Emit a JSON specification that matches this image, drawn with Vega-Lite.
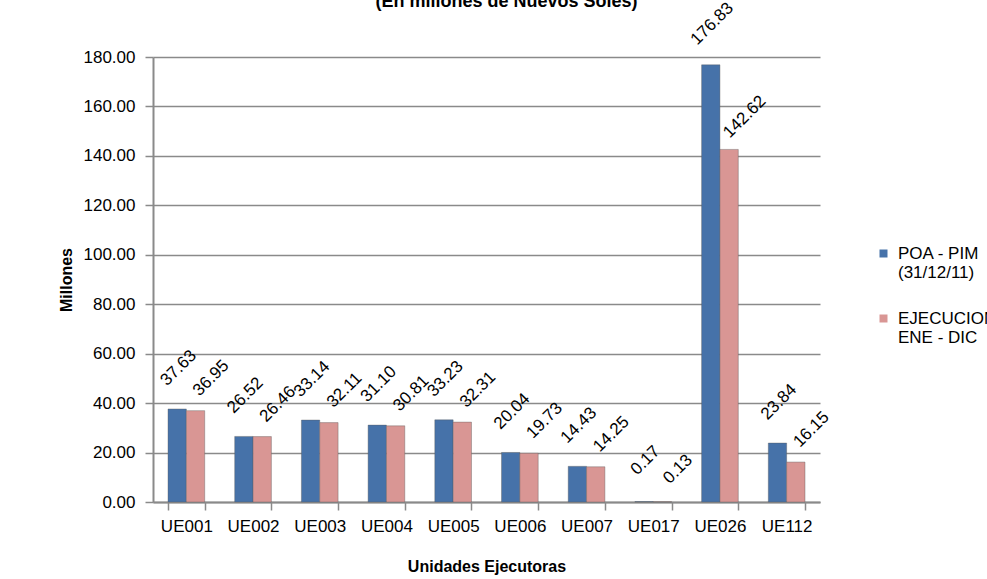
{
  "$schema": "https://vega.github.io/schema/vega-lite/v6.json",
  "width": 667,
  "height": 445,
  "autosize": {"type": "none"},
  "padding": {"left": 153, "top": 57, "right": 167, "bottom": 77},
  "background": "white",
  "title": {
    "text": "(En millones de Nuevos Soles)",
    "font": "Liberation Sans",
    "fontSize": 18,
    "fontWeight": "bold",
    "color": "#000000",
    "anchor": "middle",
    "frame": "group",
    "baseline": "alphabetic",
    "offset": -26,
    "dx": 20
  },
  "config": {
    "view": {"stroke": null},
    "font": "Liberation Sans"
  },
  "data": {
    "values": [
      {"ue": "UE001", "serie": "POA - PIM|(31/12/11)", "valor": 37.63},
      {"ue": "UE001", "serie": "EJECUCION|ENE - DIC", "valor": 36.95},
      {"ue": "UE002", "serie": "POA - PIM|(31/12/11)", "valor": 26.52},
      {"ue": "UE002", "serie": "EJECUCION|ENE - DIC", "valor": 26.46},
      {"ue": "UE003", "serie": "POA - PIM|(31/12/11)", "valor": 33.14},
      {"ue": "UE003", "serie": "EJECUCION|ENE - DIC", "valor": 32.11},
      {"ue": "UE004", "serie": "POA - PIM|(31/12/11)", "valor": 31.10},
      {"ue": "UE004", "serie": "EJECUCION|ENE - DIC", "valor": 30.81},
      {"ue": "UE005", "serie": "POA - PIM|(31/12/11)", "valor": 33.23},
      {"ue": "UE005", "serie": "EJECUCION|ENE - DIC", "valor": 32.31},
      {"ue": "UE006", "serie": "POA - PIM|(31/12/11)", "valor": 20.04},
      {"ue": "UE006", "serie": "EJECUCION|ENE - DIC", "valor": 19.73},
      {"ue": "UE007", "serie": "POA - PIM|(31/12/11)", "valor": 14.43},
      {"ue": "UE007", "serie": "EJECUCION|ENE - DIC", "valor": 14.25},
      {"ue": "UE017", "serie": "POA - PIM|(31/12/11)", "valor": 0.17},
      {"ue": "UE017", "serie": "EJECUCION|ENE - DIC", "valor": 0.13},
      {"ue": "UE026", "serie": "POA - PIM|(31/12/11)", "valor": 176.83},
      {"ue": "UE026", "serie": "EJECUCION|ENE - DIC", "valor": 142.62},
      {"ue": "UE112", "serie": "POA - PIM|(31/12/11)", "valor": 23.84},
      {"ue": "UE112", "serie": "EJECUCION|ENE - DIC", "valor": 16.15}
    ]
  },
  "encoding": {
    "x": {
      "field": "ue",
      "type": "nominal",
      "sort": null,
      "title": "Unidades Ejecutoras",
      "scale": {"paddingInner": 0.45, "paddingOuter": 0.225},
      "axis": {
        "labelAngle": 0,
        "labelFont": "Liberation Sans",
        "labelFontSize": 17,
        "labelColor": "#000000",
        "labelPadding": 8,
        "tickBand": "extent",
        "tickSize": 8,
        "tickColor": "#8a8a8a",
        "tickWidth": 1.5,
        "domainColor": "#8a8a8a",
        "domainWidth": 2,
        "titleFont": "Liberation Sans",
        "titleFontSize": 16,
        "titleFontWeight": "bold",
        "titleColor": "#000000",
        "titlePadding": 24
      }
    },
    "xOffset": {
      "field": "serie",
      "type": "nominal",
      "sort": null,
      "scale": {"paddingInner": 0, "paddingOuter": 0}
    },
    "y": {
      "field": "valor",
      "type": "quantitative",
      "title": "Millones",
      "scale": {"domain": [0, 180], "nice": false},
      "axis": {
        "values": [0, 20, 40, 60, 80, 100, 120, 140, 160, 180],
        "format": ".2f",
        "labelFont": "Liberation Sans",
        "labelFontSize": 17,
        "labelColor": "#000000",
        "labelPadding": 10,
        "tickSize": 8,
        "tickColor": "#8a8a8a",
        "tickWidth": 1.5,
        "domainColor": "#8a8a8a",
        "domainWidth": 2,
        "grid": true,
        "gridColor": "#8a8a8a",
        "gridWidth": 1.5,
        "titleFont": "Liberation Sans",
        "titleFontSize": 16,
        "titleFontWeight": "bold",
        "titleColor": "#000000",
        "titlePadding": 9
      }
    }
  },
  "layer": [
    {
      "mark": {"type": "bar", "stroke": "#5a5a5a", "strokeWidth": 0.4},
      "encoding": {
        "color": {
          "field": "serie",
          "type": "nominal",
          "sort": null,
          "scale": {
            "domain": ["POA - PIM|(31/12/11)", "EJECUCION|ENE - DIC"],
            "range": ["#4672A9", "#D99694"]
          },
          "legend": {
            "title": null,
            "orient": "none",
            "legendX": 722,
            "legendY": 188,
            "symbolType": "square",
            "symbolSize": 64,
            "symbolStrokeWidth": 0,
            "labelExpr": "split(datum.label, '|')",
            "labelFont": "Liberation Sans",
            "labelFontSize": 17,
            "labelColor": "#000000",
            "labelOffset": 6,
            "labelLimit": 200,
            "rowPadding": 28
          }
        }
      }
    },
    {
      "transform": [{"filter": "datum.serie == 'POA - PIM|(31/12/11)'"}],
      "mark": {
        "type": "text",
        "angle": -45,
        "align": "center",
        "baseline": "middle",
        "dx": 30,
        "dy": -28,
        "font": "Liberation Sans",
        "fontSize": 17,
        "color": "#000000"
      },
      "encoding": {
        "text": {"field": "valor", "type": "quantitative", "format": ".2f"}
      }
    },
    {
      "transform": [{"filter": "datum.serie == 'EJECUCION|ENE - DIC'"}],
      "mark": {
        "type": "text",
        "angle": -45,
        "align": "center",
        "baseline": "middle",
        "dx": 34,
        "dy": -12,
        "font": "Liberation Sans",
        "fontSize": 17,
        "color": "#000000"
      },
      "encoding": {
        "text": {"field": "valor", "type": "quantitative", "format": ".2f"}
      }
    }
  ]
}
